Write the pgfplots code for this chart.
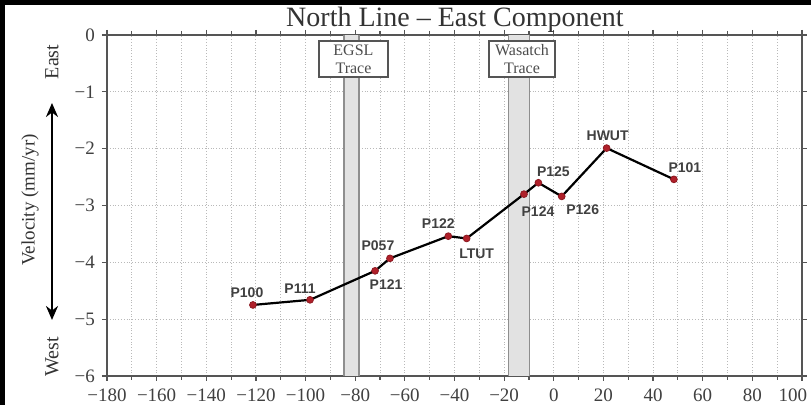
\documentclass[border=0pt]{standalone}
\usepackage{fontspec}
\setmainfont{Liberation Serif}
\newfontfamily\labfont{Liberation Sans}
\usepackage{pgfplots}
\pgfplotsset{compat=1.18}
\usetikzlibrary{arrows.meta}
\definecolor{axisgray}{HTML}{555555}
\definecolor{ptred}{HTML}{B0202A}
\definecolor{bandfill}{HTML}{E2E2E2}
\definecolor{bandedge}{HTML}{8E8E8E}
\begin{document}
\begin{tikzpicture}
\useasboundingbox (-53.5pt,-14.5pt) rectangle (352pt,188pt);
\fill[black] (-53.5pt,-14.5pt) rectangle (-51pt,188pt);
\fill[black] (-53.5pt,185.5pt) rectangle (352pt,188pt);
\begin{axis}[
  at={(0pt,0pt)}, anchor=south west, scale only axis,
  width=347.5pt, height=170.5pt,
  xmin=-180, xmax=100, ymin=-6, ymax=0,
  xtick={-180,-160,...,100}, minor x tick num=1,
  ytick={-6,-5,...,0},
  xticklabels={−180,−160,−140,−120,−100,−80,−60,−40,−20,0,20,40,60,80,{\makebox[0pt][c]{\hspace*{-9pt}100}}},
  yticklabels={−6,−5,−4,−3,−2,−1,0},
  tick label style={font=\fontsize{9.5}{9.5}\selectfont, text=black!75},
  xticklabel style={yshift=-0.5pt},
  tick align=outside, major tick length=2.5pt, minor tick length=2pt,
  tick style={axisgray, line width=0.6pt},
  xtick pos=both, ytick pos=both,
  axis line style={axisgray, line width=1.2pt},
  grid=both,
  major grid style={densely dotted, gray!55, line width=0.5pt},
  minor grid style={densely dotted, gray!55, line width=0.5pt},
  clip=false,
]
% fault zone bands
\fill[bandfill] (axis cs:-84.5,-6) rectangle (axis cs:-78.5,0);
\draw[bandedge, line width=0.8pt] (axis cs:-84.5,-6) -- (axis cs:-84.5,0);
\draw[bandedge, line width=0.8pt] (axis cs:-78.5,-6) -- (axis cs:-78.5,0);
\fill[bandfill] (axis cs:-18.2,-6) rectangle (axis cs:-9.8,0);
\draw[bandedge, line width=0.8pt] (axis cs:-18.2,-6) -- (axis cs:-18.2,0);
\draw[bandedge, line width=0.8pt] (axis cs:-9.8,-6) -- (axis cs:-9.8,0);
\node[draw=axisgray, line width=1pt, fill=white, align=center,
      font=\fontsize{8}{9}\selectfont, text=black!70,
      minimum width=34.5pt, minimum height=18pt, inner sep=1pt]
      at (axis cs:-80.7,-0.42) {EGSL\\Trace};
\node[draw=axisgray, line width=1pt, fill=white, align=center,
      font=\fontsize{8}{9}\selectfont, text=black!70,
      minimum width=33pt, minimum height=18pt, inner sep=1pt]
      at (axis cs:-12.8,-0.42) {Wasatch\\Trace};
% velocity profile
\addplot[black, line width=1.1pt, mark=*, mark size=1.7pt,
         mark options={fill=ptred, draw=ptred!80!black, line width=0.4pt}]
  coordinates {
  (-121.2,-4.75) (-98.2,-4.66) (-72,-4.15) (-66,-3.93) (-42.5,-3.54)
  (-35.1,-3.58) (-12,-2.80) (-6.2,-2.60) (3.2,-2.84) (21.3,-1.99) (48.4,-2.54)
  };
\begin{scope}[every node/.style={font=\labfont\bfseries\fontsize{7}{7}\selectfont, text=black!75}]
\node at (axis cs:-121.2,-4.75) [xshift=-3pt, yshift=6pt] {P100};
\node at (axis cs:-98.2,-4.66) [xshift=-5pt, yshift=5.5pt] {P111};
\node at (axis cs:-72,-4.15) [xshift=5.5pt, yshift=-7pt] {P121};
\node at (axis cs:-66,-3.93) [xshift=-6pt, yshift=6.5pt] {P057};
\node at (axis cs:-42.5,-3.54) [xshift=-5pt, yshift=6.5pt] {P122};
\node at (axis cs:-35.1,-3.58) [xshift=5pt, yshift=-7.5pt] {LTUT};
\node at (axis cs:-12,-2.80) [xshift=7pt, yshift=-8.5pt] {P124};
\node at (axis cs:-6.2,-2.60) [xshift=7.5pt, yshift=5.5pt] {P125};
\node at (axis cs:3.2,-2.84) [xshift=10.5pt, yshift=-6.5pt] {P126};
\node at (axis cs:21.3,-1.99) [xshift=0.5pt, yshift=6pt] {HWUT};
\node at (axis cs:48.4,-2.54) [xshift=5.5pt, yshift=6pt] {P101};
\end{scope}
\end{axis}
% title and axis labels
\node[font=\fontsize{14}{14}\selectfont, text=black!80] at (174pt,178pt) {North Line – East Component};
\node[rotate=90, font=\fontsize{9.5}{9.5}\selectfont, text=black!80] at (-38.5pt,88pt) {Velocity (mm/yr)};
\node[rotate=90, font=\fontsize{10}{10}\selectfont, text=black!80] at (-27.5pt,157pt) {East};
\node[rotate=90, font=\fontsize{10}{10}\selectfont, text=black!80] at (-27.5pt,9.5pt) {West};
\draw[black, line width=1.2pt, {Stealth[length=7pt,width=6pt]}-{Stealth[length=7pt,width=6pt]}]
  (-27.5pt,28pt) -- (-27.5pt,136.5pt);
\end{tikzpicture}
\end{document}
